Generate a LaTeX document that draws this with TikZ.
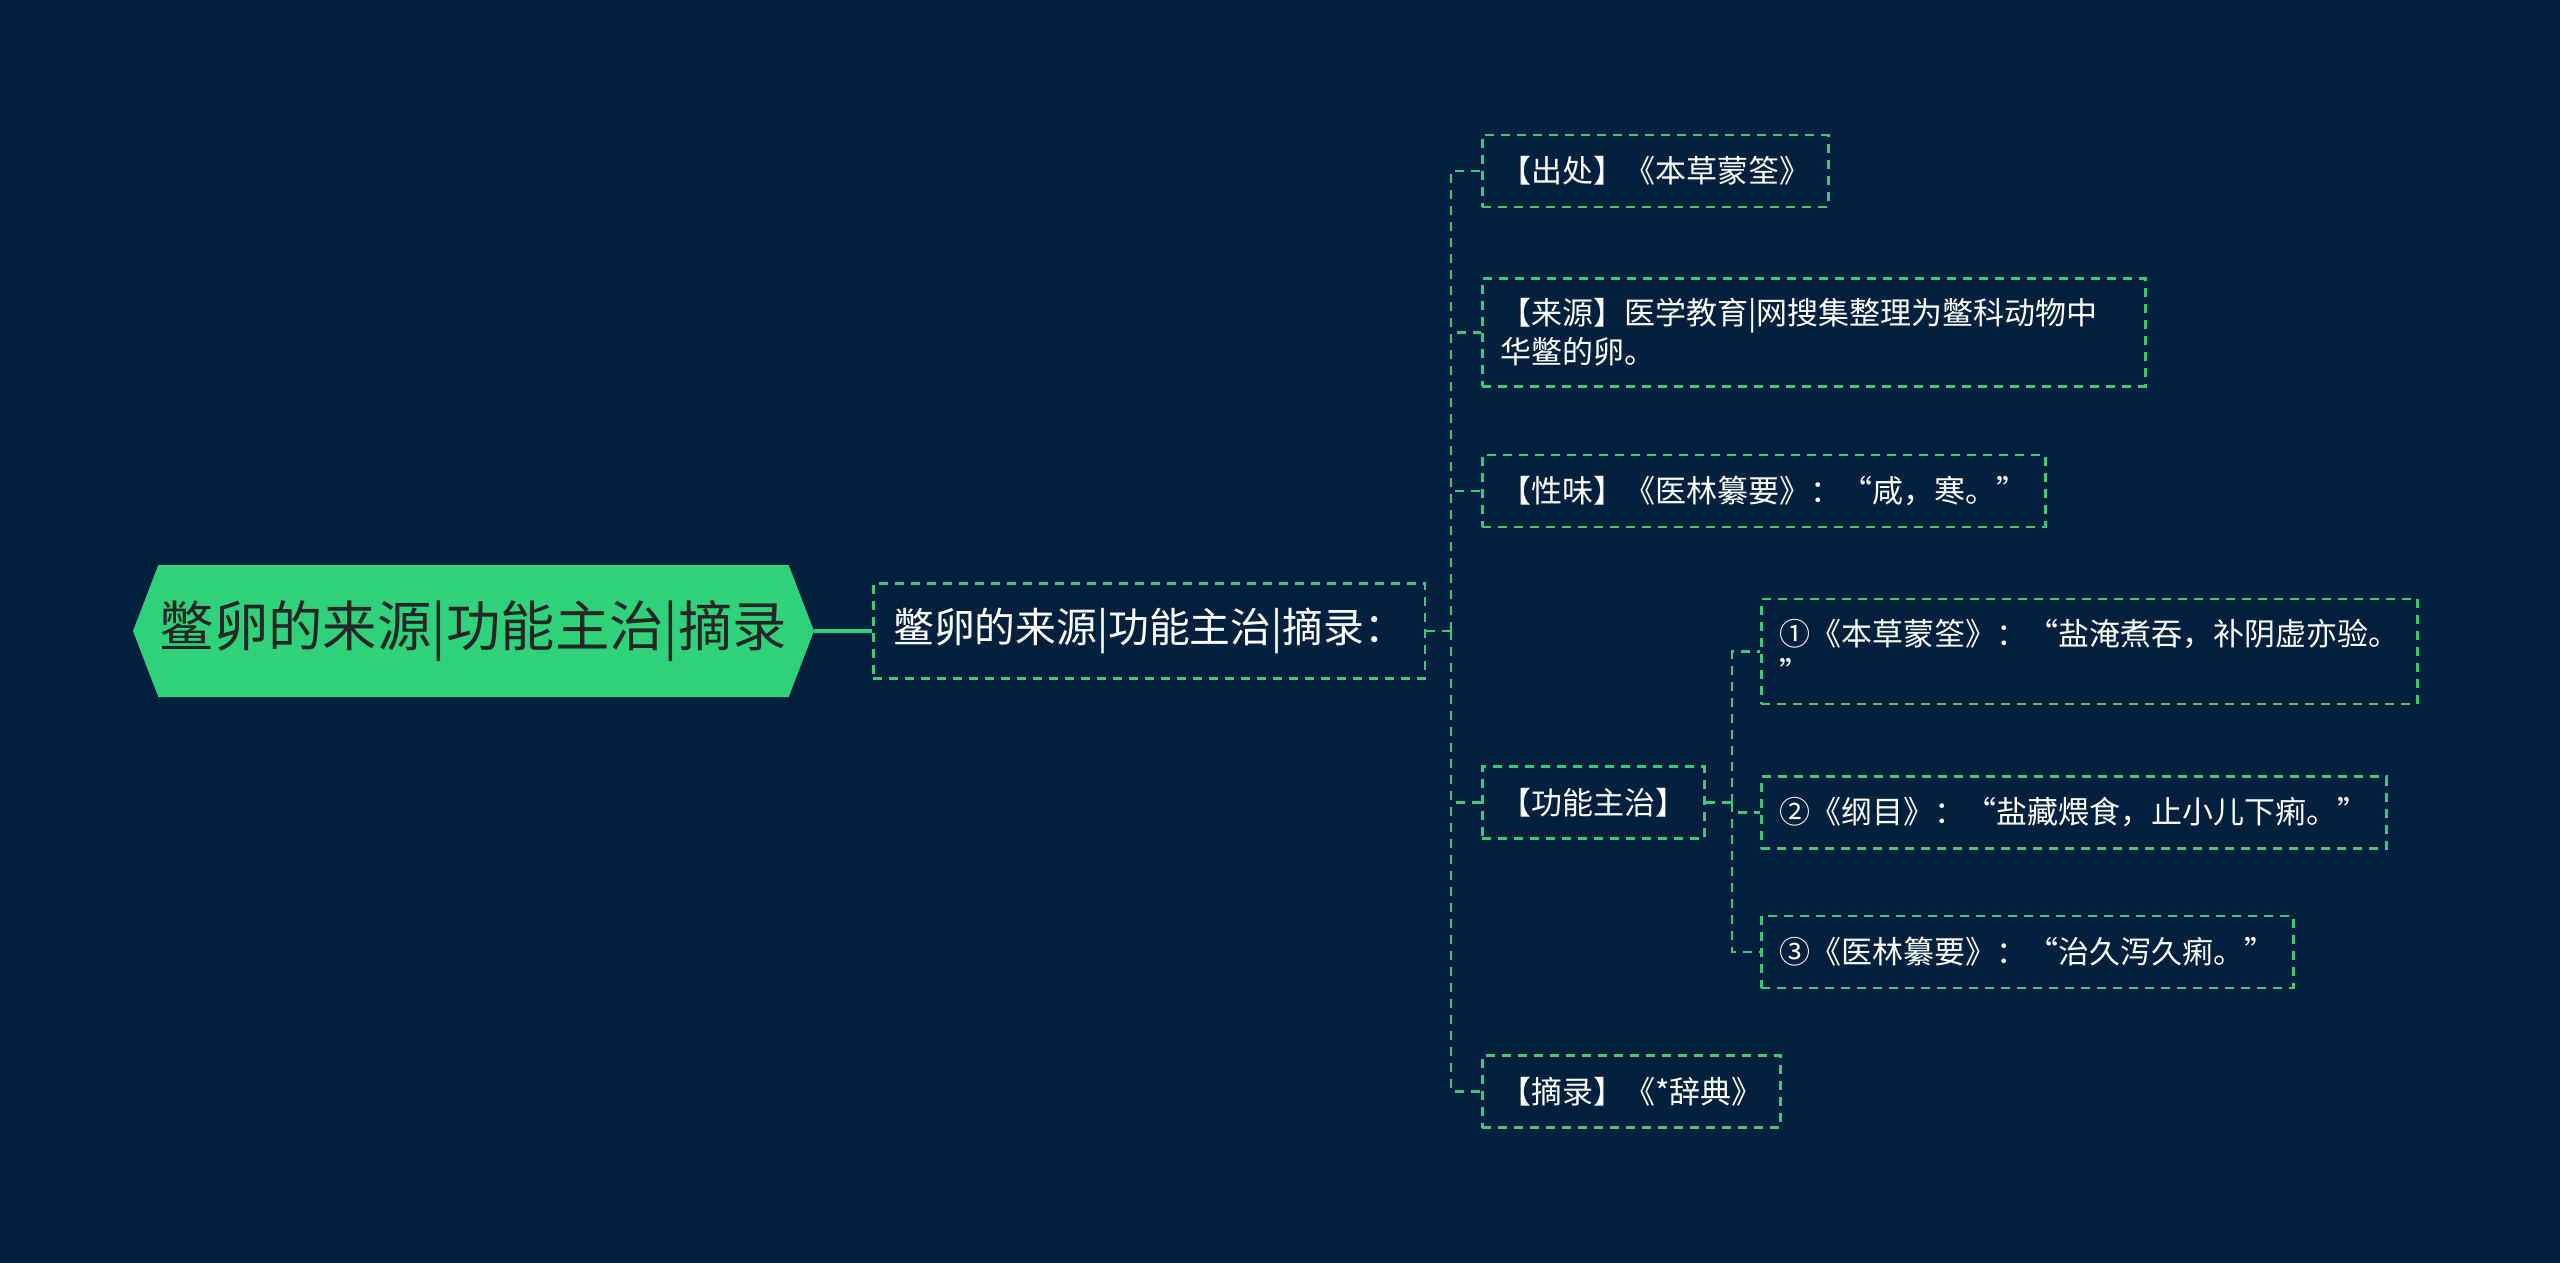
\documentclass[tikz,border=0pt]{standalone}
\usepackage{fontspec}
\setmainfont{Noto Sans CJK SC}
\usetikzlibrary{shapes.symbols}
\definecolor{shubg}{HTML}{03213F}
\definecolor{shugreen}{HTML}{2FD27A}
\definecolor{shuline}{HTML}{3BC979}

\begin{document}
\begin{tikzpicture}[x=0.5pt, y=-0.5pt,
  rootbox/.style={signal, signal to=west and east, signal pointer angle=138, fill=shugreen,
                  text=black!85, font=\fontsize{27.2}{30}\selectfont,
                  minimum width=340.5pt, minimum height=66pt, inner sep=0pt},
  box/.style={draw=shuline, line width=1.25pt, dash pattern=on 4.5pt off 3.5pt, text=white,
              font=\fontsize{15.5}{19.5}\selectfont, align=left, anchor=west,
              inner xsep=9pt, inner ysep=10pt, minimum height=36pt},
  topicbox/.style={box, font=\fontsize{20.4}{24}\selectfont, inner xsep=10pt, minimum height=47.5pt},
  link/.style={draw=shuline, line width=1.25pt, dash pattern=on 4.5pt off 3.5pt},
  rootlink/.style={draw=shugreen, line width=2pt}]

\useasboundingbox (0,0) rectangle (2560,1263);
\fill[shubg] (0,0) rectangle (2560,1263);

\node (root) [rootbox] at (473.5,631) {鳖卵的来源|功能主治|摘录};
\node (topic) [topicbox] at (872,631) {鳖卵的来源|功能主治|摘录：};

\node (src) [box] at (1481,171) {【出处】《本草蒙筌》};
\node (orig) [box, text width=313.5pt] at (1481,332.5) {【来源】医学教育|网搜集整理为鳖科动物中\\华鳖的卵。};
\node (taste) [box] at (1481,491) {【性味】《医林纂要》：“咸，寒。”};
\node (func) [box] at (1481,802.5) {【功能主治】};
\node (exc) [box] at (1481,1091.5) {【摘录】《*辞典》};

\node (f1) [box] at (1760,651.5) {①《本草蒙筌》：“盐淹煮吞，补阴虚亦验。\\”};
\node (f2) [box] at (1760,812.5) {②《纲目》：“盐藏煨食，止小儿下痢。”};
\node (f3) [box] at (1760,952) {③《医林纂要》：“治久泻久痢。”};

\coordinate (trunk) at (1451,631);
\coordinate (fork) at (1732,802.5);

\draw[rootlink] (root.east) -- (topic.west);
\draw[link] (topic.east) -- (trunk);
\foreach \n in {src, orig, taste, func, exc} \draw[link] (trunk) |- (\n.west);
\draw[link] (func.east) -- (fork);
\foreach \n in {f1, f2, f3} \draw[link] (fork) |- (\n.west);
\end{tikzpicture}
\end{document}
